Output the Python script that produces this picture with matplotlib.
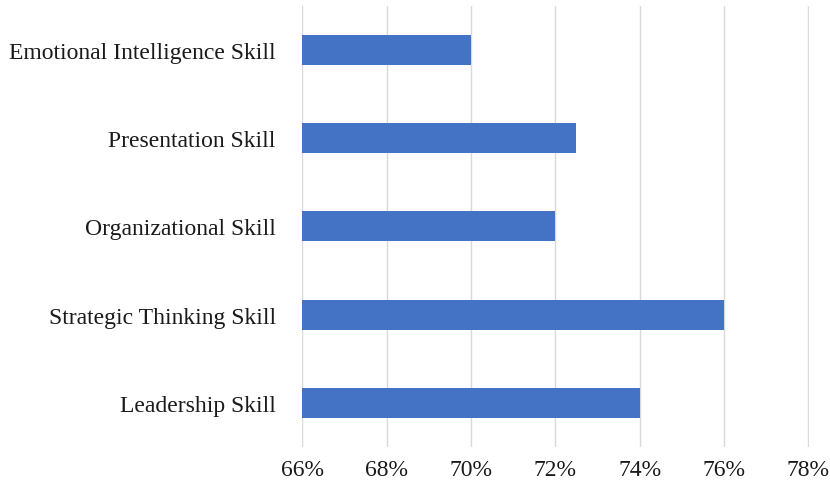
import matplotlib.pyplot as plt
from matplotlib.ticker import FuncFormatter

skills = ["Leadership Skill", "Strategic Thinking Skill", "Organizational Skill",
          "Presentation Skill", "Emotional Intelligence Skill"]
scores = [74, 76, 72, 72.5, 70]
x_ticks = [66, 68, 70, 72, 74, 76, 78]

plt.rcParams['font.family'] = ['Liberation Serif', 'DejaVu Serif']

fig = plt.figure(figsize=(8.3, 4.89), dpi=100)
ax = fig.add_axes([0.364, 0.084, 0.611, 0.902])

ax.barh(skills, [s - 66 for s in scores], left=66, height=0.34, color="#4472C4", zorder=3)

ax.set_xlim(66, 78.02)
ax.set_ylim(-0.5, len(skills) - 0.5)
ax.set_xticks(x_ticks)
ax.xaxis.set_major_formatter(FuncFormatter(lambda v, _: f"{v:.0f}%"))
ax.grid(axis="x", color="#D9D9D9", linewidth=1, zorder=0)
for s in ax.spines.values():
    s.set_visible(False)
ax.tick_params(axis="both", length=0, labelsize=17, colors="#1a1a1a")
ax.tick_params(axis="y", pad=19)
ax.tick_params(axis="x", pad=9)

fig.savefig("out.png", dpi=100, facecolor="white")
